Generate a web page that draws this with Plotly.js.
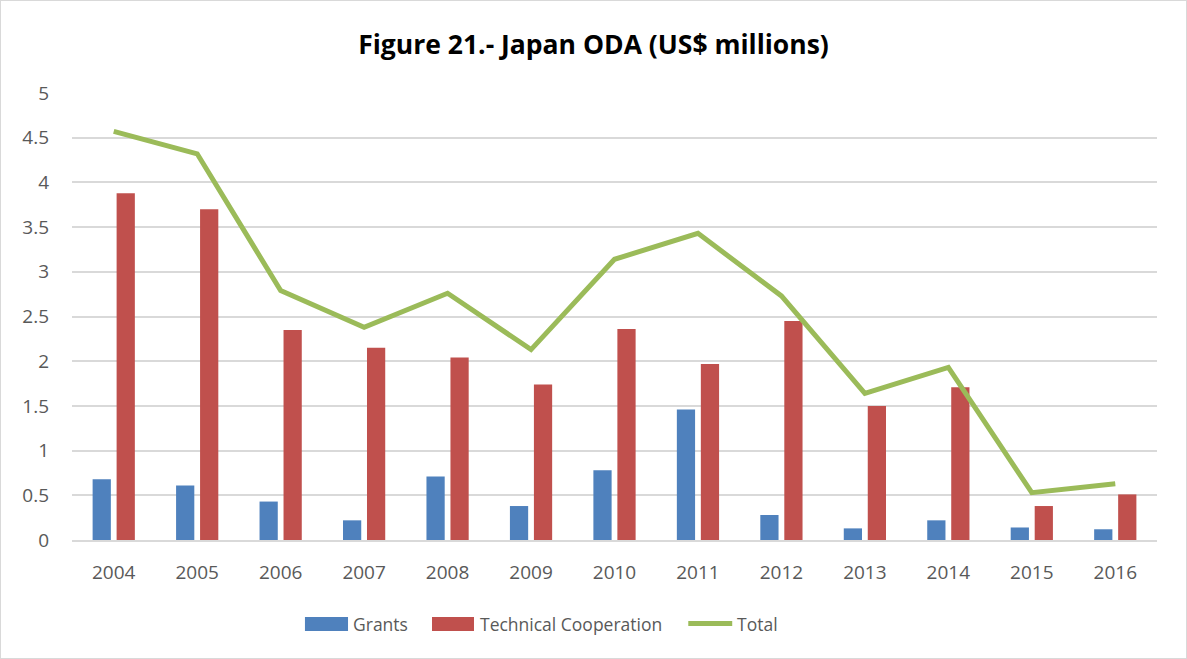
<!DOCTYPE html>
<html>
<head>
<meta charset="utf-8">
<script src="https://cdn.plot.ly/plotly-3.0.1.min.js"></script>
<style>
html,body{margin:0;padding:0;background:#fff;}
#chart{width:1185px;height:657px;border:1px solid #D9D9D9;}
</style>
</head>
<body>
<div id="chart"></div>
<script>
const years = ["2004","2005","2006","2007","2008","2009","2010","2011","2012","2013","2014","2015","2016"];
const grants = [0.68,0.61,0.43,0.22,0.71,0.38,0.78,1.46,0.28,0.13,0.22,0.14,0.12];
const technical = [3.88,3.70,2.35,2.15,2.04,1.74,2.36,1.97,2.45,1.50,1.71,0.38,0.51];
const total = [4.57,4.32,2.79,2.38,2.76,2.13,3.14,3.43,2.73,1.64,1.93,0.53,0.63];
const seriesNames = ["Grants","Technical Cooperation","Total"];
const seriesColors = ["#4F81BD","#C0504D","#9BBB59"];

const traces = [
  {type:'bar', name:seriesNames[0], x:years, y:grants, marker:{color:seriesColors[0]}},
  {type:'bar', name:seriesNames[1], x:years, y:technical, marker:{color:seriesColors[1]}},
  {type:'scatter', mode:'lines', name:seriesNames[2], x:years, y:total, line:{color:seriesColors[2], width:5}}
];

// custom legend (wide swatches like the original)
const legY = -0.187;
const shapes = [
  {type:'rect', xref:'paper', yref:'paper', x0:0.2147, x1:0.2544, y0:-0.2036, y1:-0.1723, fillcolor:seriesColors[0], line:{width:0}},
  {type:'rect', xref:'paper', yref:'paper', x0:0.3318, x1:0.3705, y0:-0.2036, y1:-0.1723, fillcolor:seriesColors[1], line:{width:0}},
  {type:'line', xref:'paper', yref:'paper', x0:0.5680, x1:0.6085, y0:legY, y1:legY, line:{color:seriesColors[2], width:5}}
];
const annotations = [
  {xref:'paper', yref:'paper', x:0.2575, y:legY, xanchor:'left', yanchor:'middle', text:seriesNames[0], showarrow:false, font:{size:17.5, color:'#595959'}},
  {xref:'paper', yref:'paper', x:0.3745, y:legY, xanchor:'left', yanchor:'middle', text:seriesNames[1], showarrow:false, font:{size:17.5, color:'#595959'}},
  {xref:'paper', yref:'paper', x:0.6110, y:legY, xanchor:'left', yanchor:'middle', text:seriesNames[2], showarrow:false, font:{size:17.5, color:'#595959'}}
];

const layout = {
  width:1185, height:657,
  paper_bgcolor:'#fff', plot_bgcolor:'#fff',
  font:{family:'Open Sans, sans-serif', color:'#595959', size:18},
  title:{text:'<b>Figure 21.- Japan ODA (US$ millions)</b>', x:0.5, xanchor:'center', y:0.933, yanchor:'middle',
         font:{family:'Open Sans, sans-serif', size:26.5, color:'#000'}},
  margin:{l:71, r:29, t:92, b:118},
  barmode:'group', bargap:0.425, bargroupgap:0.24,
  xaxis:{type:'category', showgrid:false, showline:true, linecolor:'#D9D9D9', linewidth:2, ticks:'',
         tickfont:{size:19, color:'#595959'}, ticklabelstandoff:14},
  yaxis:{range:[0,5], dtick:0.5, showgrid:true, gridcolor:'#D9D9D9', gridwidth:2, zeroline:false,
         showline:false, ticks:'', tickfont:{size:19, color:'#595959'}, ticklabelstandoff:22},
  showlegend:false,
  shapes:shapes,
  annotations:annotations
};

Plotly.newPlot('chart', traces, layout, {displayModeBar:false, staticPlot:true});
</script>
</body>
</html>
